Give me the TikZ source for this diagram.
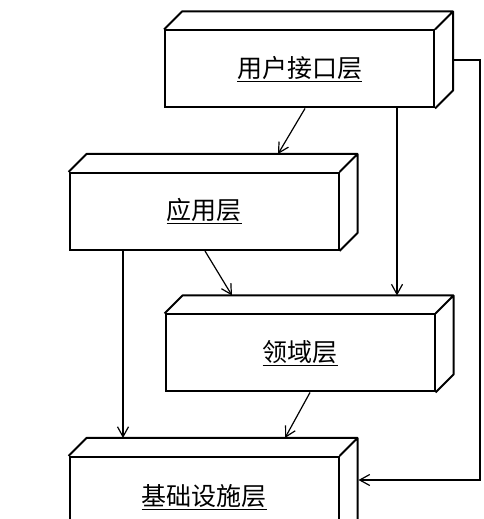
\documentclass[tikz,border=0pt]{standalone}
\usepackage{fontspec}
\newfontfamily\cjk{Noto Sans CJK SC}
\usetikzlibrary{arrows.meta}
\tikzset{
  layer/.style={draw,line width=2pt,minimum width=269pt,minimum height=77pt,
    inner sep=0pt,font=\cjk\fontsize{25}{28}\selectfont},
  dep/.style={-{Straight Barb[length=10pt,width=11pt]},line width=1.2pt}
}
\begin{document}
\begin{tikzpicture}[x=1pt,y=1pt]
   \clip (0,0) rectangle (484,519);
   \node[layer] (ui)    at (299.5,450) {\underline{用户接口层}};
   \node[layer] (app)   at (204,307.5) {\underline{应用层}};
   \node[layer] (dom)   at (300,166)   {\underline{领域层}};
   \node[layer,minimum height=80pt] (infra) at (204,22) {\underline{基础设施层}};
   \foreach \n in {ui,app,dom,infra}
     \draw[line width=2pt,line join=round]
       (\n.north west) -- ++(18,18) -- ([shift={(18,18)}]\n.north east)
       -- ([shift={(18,18)}]\n.south east) -- (\n.south east)
       (\n.north east) -- ++(18,18);
   \coordinate (ui side) at ([shift={(19,9)}]ui.east);
   \coordinate (infra side) at ([shift={(19,17)}]infra.east);
   \foreach \a/\s/\b/\t in
     { ui/5.5/app/74,
       ui/97.5/dom/97,
       app/1/dom/-68,
       app/-81/infra/-81,
       dom/10/infra/81
     }
     \draw[dep] ([xshift=\s]\a.south) -- ([shift={(\t,18)}]\b.north);
   \draw[dep] (ui side) -- ++(26,0) |- (infra side);
\end{tikzpicture}
\end{document}
